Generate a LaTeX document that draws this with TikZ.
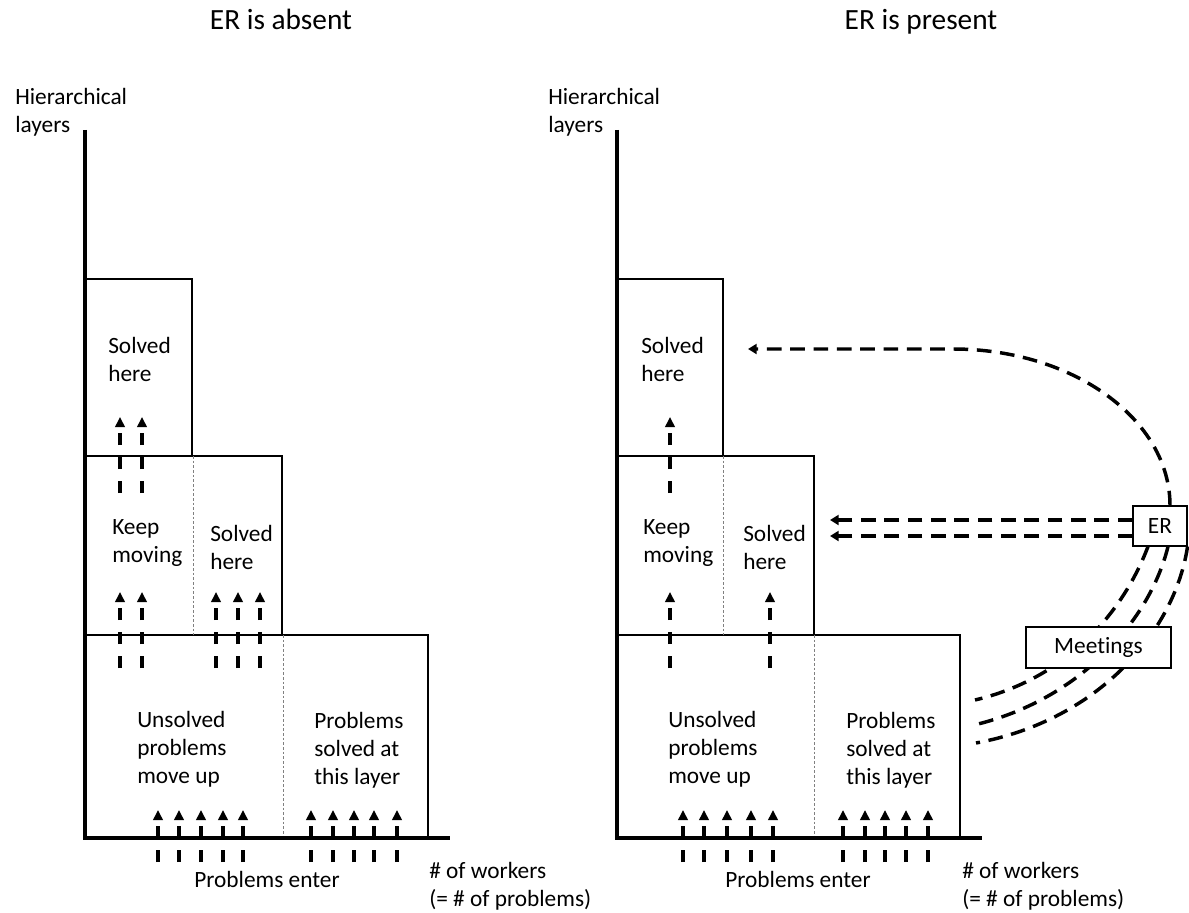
\documentclass[tikz,border=0pt]{standalone}
\usepackage{fontspec}
\setmainfont{Carlito}[Ligatures={NoCommon}]
\usetikzlibrary{arrows.meta}
\begin{document}
\begin{tikzpicture}[x=0.75pt,y=-0.75pt,
  box/.style={draw,line width=0.8pt},
  sep/.style={draw=gray,line width=0.6pt,dash pattern=on 2pt off 1.5pt},
  axis/.style={line width=2.6pt},
  uparrow/.style={line width=2.9pt,dash pattern=on 9pt off 9pt,-{Triangle[width=7pt,length=7.5pt]}},
  flow/.style={line width=2.6pt,dash pattern=on 11pt off 6.5pt},
  flowarrow/.style={flow,-{Triangle[width=7.5pt,length=6.5pt]}},
  lbl/.style={font=\fontsize{17.5}{21}\selectfont,align=left,anchor=west,inner sep=0pt},
  ctr/.style={font=\fontsize{17.5}{21}\selectfont,inner sep=0pt},
  ttl/.style={font=\fontsize{22}{26}\selectfont,inner sep=0pt,anchor=base},
  tag/.style={draw,fill=white,line width=0.8pt,font=\fontsize{17.5}{21}\selectfont,inner sep=0pt},
]
\useasboundingbox (0,0) rectangle (1189,913);

% ================= LEFT PANEL =================
\node[ttl] (tA) at (281,30) {ER is absent};
\node[lbl] (hA) at (15,112) {Hierarchical\\layers};

% boxes
\draw[box] (85,279) rectangle (192,456);
\draw[box] (85,456) rectangle (282,635);
\draw[box] (85,635) rectangle (428,838);
\draw[sep] (193,456) -- (193,635);
\draw[sep] (283,635) -- (283,838);
% axes
\draw[axis] (85,130) -- (85,838) -- (450,838);

% labels
\node[lbl] (sA1) at (108,359) {Solved\\here};
\node[lbl] (kA) at (112,543) {Keep\\moving};
\node[lbl] (sA2) at (210,547) {Solved\\here};
\node[lbl] (uA) at (137,749) {Unsolved\\problems\\move up};
\node[lbl] (pA) at (314,750) {Problems\\solved at\\this layer};
\node[ctr] (eA) at (267,879) {Problems enter};
\node[lbl] (wA) at (429,886) {\# of workers\\(= \# of problems)};

% arrows
\foreach \x in {158,179,201,223,243,311,333,354,374,397}
  \draw[uparrow] (\x,862) -- (\x,810);
\foreach \x in {120,142,216,238,260}
  \draw[uparrow] (\x,668) -- (\x,592);
\foreach \x in {120,142}
  \draw[uparrow] (\x,493) -- (\x,417);

% ================= RIGHT PANEL =================
\node[ttl] (tB) at (921,30) {ER is present};
\node[lbl] (hB) at (548,112) {Hierarchical\\layers};

\draw[box] (617,279) rectangle (723,456);
\draw[box] (617,456) rectangle (814,635);
\draw[box] (617,635) rectangle (960,838);
\draw[sep] (723,456) -- (723,635);
\draw[sep] (814,635) -- (814,838);
\draw[axis] (617,130) -- (617,838) -- (982,838);

\node[lbl] (sB1) at (641,359) {Solved\\here};
\node[lbl] (kB) at (643,543) {Keep\\moving};
\node[lbl] (sB2) at (743,547) {Solved\\here};
\node[lbl] (uB) at (668,749) {Unsolved\\problems\\move up};
\node[lbl] (pB) at (846,750) {Problems\\solved at\\this layer};
\node[ctr] (eB) at (798,879) {Problems enter};
\node[lbl] (wB) at (962,886) {\# of workers\\(= \# of problems)};

\foreach \x in {683,704,727,751,773,843,865,885,906,928}
  \draw[uparrow] (\x,862) -- (\x,810);
\foreach \x in {670,770}
  \draw[uparrow] (\x,668) -- (\x,592);
\draw[uparrow] (670,493) -- (670,417);

% ER node and its connectors
\node[tag,minimum width=40.5pt,minimum height=30pt] (er) at (1160,526) {ER};
\coordinate (t1) at (748,349);
\coordinate (h1) at (830,520);
\coordinate (h2) at (830,536);
\coordinate (m1) at (975,700);
\coordinate (m2) at (974,725);
\coordinate (m3) at (976,743);

\draw[flowarrow] ([xshift=7.5pt]er.north) .. controls +(0,-86) and (1073,349) .. (953,349) -- (t1);
\draw[flowarrow] (er.west |- h1) -- (h1);
\draw[flowarrow] (er.west |- h2) -- (h2);

\draw[flow] ([xshift=-9pt]er.south) .. controls (1120,620) and (1060,680) .. (m1);
\draw[flow] ([xshift=6pt]er.south) .. controls (1150,620) and (1080,700) .. (m2);
\draw[flow] (er.south east) .. controls (1175,630) and (1100,720) .. (m3);

\node[tag,minimum width=108.75pt,minimum height=30.75pt] (meet) at (1098.5,647.5) {Meetings};
\end{tikzpicture}
\end{document}
